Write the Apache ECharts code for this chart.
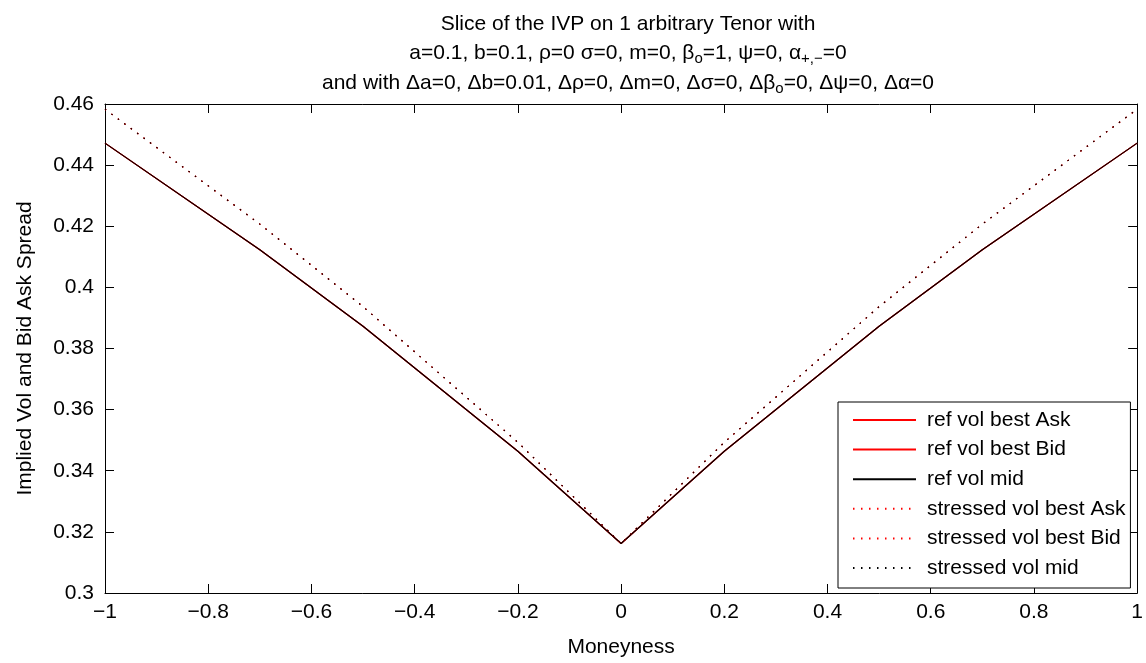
<!DOCTYPE html>
<html>
<head>
<meta charset="utf-8">
<script src="https://cdn.jsdelivr.net/npm/echarts@6/dist/echarts.min.js"></script>
<style>html,body{margin:0;padding:0;background:#fff}#c{width:1146px;height:663px}</style>
</head>
<body>
<div id="c"></div>
<script>
// Data
var moneyness = [-1, -0.7, -0.5, -0.2, 0, 0.2, 0.5, 0.7, 1];
var refAsk = [0.4472, 0.4123, 0.3873, 0.3464, 0.3162, 0.3464, 0.3873, 0.4123, 0.4472];
var refBid = [0.4472, 0.4123, 0.3873, 0.3464, 0.3162, 0.3464, 0.3873, 0.4123, 0.4472];
var refMid = [0.4472, 0.4123, 0.3873, 0.3464, 0.3162, 0.3464, 0.3873, 0.4123, 0.4472];
var stressedAsk = [0.4583, 0.4207, 0.3937, 0.3493, 0.3162, 0.3493, 0.3937, 0.4207, 0.4583];
var stressedBid = [0.4583, 0.4207, 0.3937, 0.3493, 0.3162, 0.3493, 0.3937, 0.4207, 0.4583];
var stressedMid = [0.4583, 0.4207, 0.3937, 0.3493, 0.3162, 0.3493, 0.3937, 0.4207, 0.4583];
var seriesNames = ['ref vol best Ask', 'ref vol best Bid', 'ref vol mid',
  'stressed vol best Ask', 'stressed vol best Bid', 'stressed vol mid'];
var xTicks = {min: -1, max: 1, interval: 0.2};
var yTicks = {min: 0.3, max: 0.46, interval: 0.02};

function pairs(ys) { return moneyness.map(function (x, i) { return [x, ys[i]]; }); }

var FONT = 'Liberation Sans';
var FS = 21;
var chart = echarts.init(document.getElementById('c'), null, {renderer: 'canvas'});
var dotted = [1.5, 6.5];
function mk(name, data, color, type, z) {
  return {
    name: name, type: 'line', data: pairs(data), symbol: 'none', z: z,
    lineStyle: {color: color, width: 1.2, type: type}, itemStyle: {color: color},
    emphasis: {disabled: true}, animation: false
  };
}
var fmtX = function (v) { var s = String(parseFloat(v.toFixed(2))); return s.replace('-', '\u2212'); };
var fmtY = function (v) { return String(parseFloat(v.toFixed(2))); };

var option = {
  backgroundColor: '#fff',
  animation: false,
  title: {
    left: 623, top: 4, textAlign: 'center',
    text: '{t|Slice of the IVP on 1 arbitrary Tenor with}\n' +
      '{t|a=0.1, b=0.1, \u03c1=0 \u03c3=0, m=0, \u03b2}{s|o}{t|=1, \u03c8=0, \u03b1}{s|+,\u2212}{t|=0}\n' +
      '{t|and with \u0394a=0, \u0394b=0.01, \u0394\u03c1=0, \u0394m=0, \u0394\u03c3=0, \u0394\u03b2}{s|o}{t|=0, \u0394\u03c8=0, \u0394\u03b1=0}',
    textStyle: {
      fontFamily: FONT, fontSize: FS, color: '#000', fontWeight: 'normal', lineHeight: 29.5,
      rich: {
        t: {fontFamily: FONT, fontSize: FS, color: '#000', lineHeight: 29.5},
        s: {fontFamily: FONT, fontSize: 15, color: '#000', lineHeight: 29.5, padding: [12, 0, 0, 0]}
      }
    }
  },
  grid: {left: 105, right: 4, top: 104, bottom: 66, containLabel: false},
  legend: {
    orient: 'vertical', left: 838, top: 402,
    data: seriesNames,
    itemWidth: 63, itemHeight: 14, itemGap: 7.6,
    padding: [7, 5, 9, 14],
    borderColor: '#000', borderWidth: 1, backgroundColor: '#fff',
    itemStyle: {opacity: 0},
    textStyle: {fontFamily: FONT, fontSize: FS, color: '#000', lineHeight: 22, padding: [0, 0, 0, 6]},
    selectedMode: false, z: 10
  },
  xAxis: [{
    type: 'value', min: xTicks.min, max: xTicks.max, interval: xTicks.interval,
    name: 'Moneyness', nameLocation: 'middle', nameGap: 44,
    nameTextStyle: {fontFamily: FONT, fontSize: FS, color: '#000'},
    axisLine: {show: true, onZero: false, lineStyle: {color: '#000', width: 1}},
    axisTick: {show: true, inside: true, length: 9, lineStyle: {color: '#000'}},
    axisLabel: {fontFamily: FONT, fontSize: FS, color: '#000', margin: 9, formatter: fmtX},
    splitLine: {show: false}
  }, {
    type: 'value', position: 'top', min: xTicks.min, max: xTicks.max, interval: xTicks.interval,
    axisLine: {show: true, onZero: false, lineStyle: {color: '#000', width: 1}},
    axisTick: {show: true, inside: true, length: 9, lineStyle: {color: '#000'}},
    axisLabel: {show: false}, splitLine: {show: false}
  }],
  yAxis: [{
    type: 'value', min: yTicks.min, max: yTicks.max, interval: yTicks.interval,
    name: 'Implied Vol and Bid Ask Spread', nameLocation: 'middle', nameGap: 69,
    nameTextStyle: {fontFamily: FONT, fontSize: FS, color: '#000'},
    axisLine: {show: true, onZero: false, lineStyle: {color: '#000', width: 1}},
    axisTick: {show: true, inside: true, length: 9, lineStyle: {color: '#000'}},
    axisLabel: {fontFamily: FONT, fontSize: FS, color: '#000', margin: 11, formatter: fmtY},
    splitLine: {show: false}
  }, {
    type: 'value', position: 'right', min: yTicks.min, max: yTicks.max, interval: yTicks.interval,
    axisLine: {show: true, onZero: false, lineStyle: {color: '#000', width: 1}},
    axisTick: {show: true, inside: true, length: 9, lineStyle: {color: '#000'}},
    axisLabel: {show: false}, splitLine: {show: false}
  }],
  series: [
    mk(seriesNames[0], refAsk, '#ff0000', 'solid', 2),
    mk(seriesNames[1], refBid, '#ff0000', 'solid', 3),
    mk(seriesNames[2], refMid, '#000000', 'solid', 4),
    mk(seriesNames[3], stressedAsk, '#ff0000', dotted, 5),
    mk(seriesNames[4], stressedBid, '#ff0000', dotted, 6),
    mk(seriesNames[5], stressedMid, '#000000', dotted, 7)
  ]
};
chart.setOption(option);
</script>
</body>
</html>
